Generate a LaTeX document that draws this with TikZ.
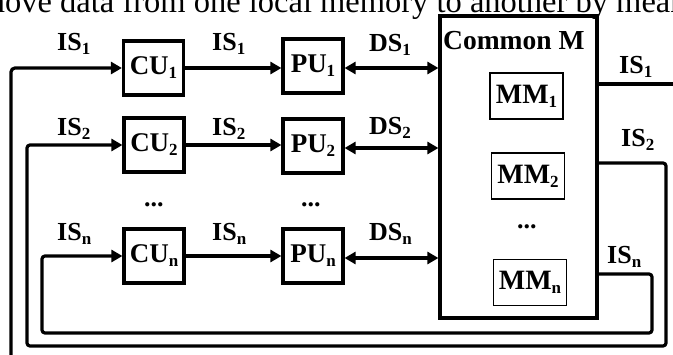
\documentclass[tikz,border=0pt]{standalone}
\usepackage{fontspec}
\setmainfont{Liberation Serif}
\usetikzlibrary{arrows.meta}
% lowered, smaller subscript used in all labels
\newcommand\sbx[1]{\raisebox{-4pt}{\fontsize{17}{17}\selectfont #1}}
\begin{document}
\begin{tikzpicture}[x=1pt,y=-1pt,
  unit/.style={draw,line width=3.2pt,minimum width=60pt,minimum height=54pt,inner sep=0pt,
    font=\bfseries\fontsize{27}{30}\selectfont},
  mem/.style={draw,line width=1.6pt,minimum width=73pt,minimum height=46pt,inner sep=0pt,
    font=\bfseries\fontsize{28}{30}\selectfont},
  lbl/.style={anchor=base west,inner sep=0pt,font=\bfseries\fontsize{26}{28}\selectfont},
  link/.style={line width=3.2pt},
  tip/.style={-{Triangle[length=11pt,width=12pt]}},
  dtip/.style={{Triangle[length=11pt,width=12pt]}-{Triangle[length=11pt,width=12pt]}},
]
\useasboundingbox (0,0) rectangle (673,354);
\clip (0,0) rectangle (673,354);

% running text above the figure
\node[anchor=base west,inner sep=0pt,font=\fontsize{32.5}{34}\selectfont] (txt) at (-20.3,12)
  {move data from one local memory to another by means};

% control units and processing units
\node[unit] (cu1) at (153.5,68) {CU\sbx{1}};
\node[unit] (pu1) at (313,66) {PU\sbx{1}};
\node[unit] (cu2) at (154,145) {CU\sbx{2}};
\node[unit] (pu2) at (313,146) {PU\sbx{2}};
\node[unit] (cun) at (154,256) {CU\sbx{n}};
\node[unit] (pun) at (313,256) {PU\sbx{n}};

% common memory with its modules
\node[draw,line width=3.2pt,minimum width=157pt,minimum height=302pt,inner sep=0pt] (cm) at (518.5,167) {};
\node[anchor=base west,inner sep=0pt,font=\bfseries\fontsize{27.5}{30}\selectfont] (cmt) at (443,49) {Common M};
\node[mem] (mm1) at (526.5,96) {MM\sbx{1}};
\node[mem] (mm2) at (528,176) {MM\sbx{2}};
\node[mem] (mmn) at (530,282.5) {MM\sbx{n}};

% ellipses
\node[lbl] (d1) at (144,206) {...};
\node[lbl] (d2) at (301,206) {...};
\node[lbl] (d3) at (517,228) {...};

% signal labels
\node[lbl] (l1a) at (57,50) {IS\sbx{1}};
\node[lbl] (l1b) at (212,50) {IS\sbx{1}};
\node[lbl] (l1c) at (369,51) {DS\sbx{1}};
\node[lbl] (l2a) at (57,135) {IS\sbx{2}};
\node[lbl] (l2b) at (212,135) {IS\sbx{2}};
\node[lbl] (l2c) at (369,134) {DS\sbx{2}};
\node[lbl] (lna) at (57,240) {IS\sbx{n}};
\node[lbl] (lnb) at (212,240) {IS\sbx{n}};
\node[lbl] (lnc) at (369,240) {DS\sbx{n}};
\node[lbl] (r1) at (619,73) {IS\sbx{1}};
\node[lbl] (r2) at (621,146) {IS\sbx{2}};
\node[lbl] (rn) at (607,263) {IS\sbx{n}};

% CU -> PU
\draw[link,tip] (cu1.east) -- (cu1.east -| pu1.west);
\draw[link,tip] (cu2.east) -- (cu2.east -| pu2.west);
\draw[link,tip] (cun.east) -- (cun.east -| pun.west);

% PU <-> common memory
\draw[link,dtip] (pu1.east |- cu1.east) -- (cm.west |- cu1.east);
\draw[link,dtip] (pu2.east |- 0,148) -- (cm.west |- 0,148);
\draw[link,dtip] (pun.east |- 0,258) -- (cm.west |- 0,258);

% instruction streams fed back to the control units
\draw[link,rounded corners=4pt,tip] (11,370) |- (cu1.west);
\draw[link] (cm.east |- 0,84) -- (690,84);
\draw[link,rounded corners=3pt,tip] (cm.east |- 0,163) -- (666,163) -- (666,346) -- (27,346) |- (cu2.west);
\draw[link,rounded corners=3pt,tip] (cm.east |- 0,274) -- (652,274) -- (652,333) -- (42,333) |- (cun.west);
\end{tikzpicture}
\end{document}
